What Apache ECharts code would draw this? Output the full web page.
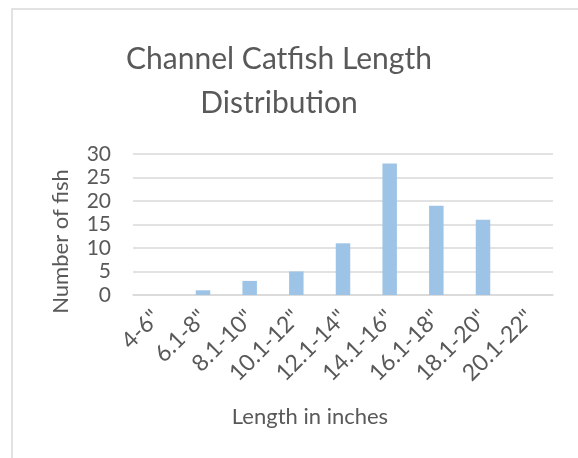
<!DOCTYPE html>
<html>
<head>
<meta charset="utf-8">
<script src="https://cdn.jsdelivr.net/npm/echarts@6/dist/echarts.min.js"></script>
<style>
  html, body { margin: 0; padding: 0; background: #fff; }
  #chart-container { width: 578px; height: 458px; }
</style>
</head>
<body>
<div id="chart-container"></div>
<script>
// length classes and how many fish fell in each
var lengthClasses = ['4-6"', '6.1-8"', '8.1-10"', '10.1-12"', '12.1-14"', '14.1-16"', '16.1-18"', '18.1-20"', '20.1-22"'];
var fishCounts = [0, 1, 3, 5, 11, 28, 19, 16, 0];

var textColor = '#595959';
var fontFamily = 'Lato';

var myChart = echarts.init(document.getElementById('chart-container'));
myChart.setOption({
    backgroundColor: '#ffffff',
    animation: false,
    title: {
        text: 'Channel Catfish Length\nDistribution',
        left: 274,
        textAlign: 'center',
        top: 32,
        textStyle: {
            color: textColor,
            fontFamily: fontFamily,
            fontWeight: 'normal',
            fontSize: 30,
            lineHeight: 44
        }
    },
    // light frame around the chart, like the spreadsheet chart border
    graphic: [{
        type: 'rect',
        shape: { x: 12, y: 9, width: 700, height: 600 },
        style: { fill: 'none', stroke: '#d9d9d9', lineWidth: 1.5 },
        silent: true
    }],
    grid: {
        left: 133,
        right: 25,
        top: 154,
        bottom: 163,
        outerBoundsMode: 'none'
    },
    xAxis: {
        type: 'category',
        data: lengthClasses,
        name: 'Length in inches',
        nameLocation: 'middle',
        nameGap: 111,
        nameTextStyle: {
            color: textColor,
            fontFamily: fontFamily,
            fontSize: 22,
            padding: [0, 66, 0, 0]
        },
        axisLine: { lineStyle: { color: '#d9d9d9', width: 1.5 } },
        axisTick: { show: false },
        axisLabel: {
            rotate: 45,
            margin: 19,
            interval: 0,
            color: textColor,
            fontFamily: fontFamily,
            fontSize: 23
        }
    },
    yAxis: {
        type: 'value',
        min: 0,
        max: 30,
        interval: 5,
        name: 'Number of fish',
        nameLocation: 'middle',
        nameGap: 61,
        nameTextStyle: {
            color: textColor,
            fontFamily: fontFamily,
            fontSize: 22,
            padding: [0, 34, 0, 0]
        },
        axisLine: { show: false },
        axisTick: { show: false },
        splitLine: { lineStyle: { color: '#d9d9d9', width: 1.5 } },
        axisLabel: {
            margin: 22,
            color: textColor,
            fontFamily: fontFamily,
            fontSize: 21
        }
    },
    series: [{
        name: 'Number of fish',
        type: 'bar',
        data: fishCounts,
        barWidth: '31%',
        itemStyle: { color: '#9dc3e6' }
    }]
});
</script>
</body>
</html>
